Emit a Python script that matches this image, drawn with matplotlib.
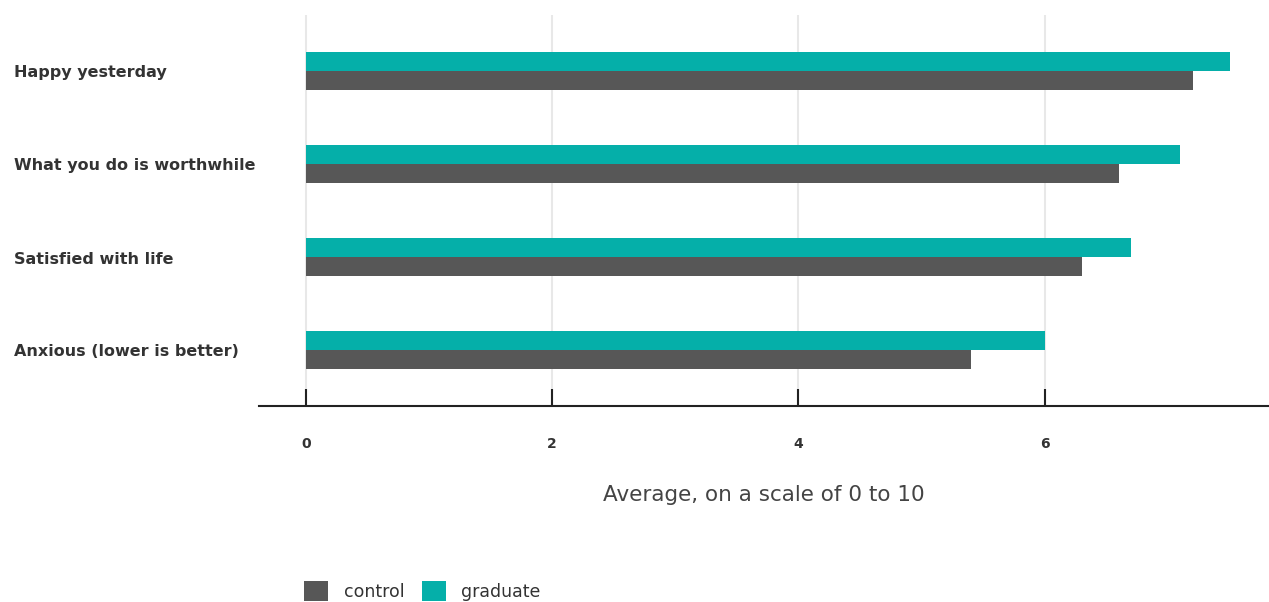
import matplotlib.pyplot as plt
import numpy as np

plt.rcParams['font.family'] = ['DejaVu Sans']

# wellbeing measures, top to bottom
categories = ['Happy yesterday', 'What you do is worthwhile',
              'Satisfied with life', 'Anxious (lower is better)']
control = [7.2, 6.6, 6.3, 5.4]
graduate = [7.5, 7.1, 6.7, 6.0]
ticks = [0, 2, 4, 6]

c_control = '#575757'
c_graduate = '#05AFA9'

fig = plt.figure(figsize=(12.69, 6.02), dpi=100)
ax = fig.add_axes([259 / 1269, 196 / 602, 1 - 259 / 1269, 391 / 602])

y = np.arange(len(categories))
h = 0.205
ax.barh(y - h / 2, graduate, height=h, color=c_graduate, label='graduate', zorder=3)
ax.barh(y + h / 2, control, height=h, color=c_control, label='control', zorder=3)

ax.set_ylim(3.6, -0.6)
ax.set_xlim(-0.38, 7.82)
ax.set_xticks(ticks)
ax.set_xticklabels([str(t) for t in ticks], fontsize=10, fontweight='bold', color='#333333')
ax.tick_params(axis='x', direction='in', length=12, width=1.5, color='#222222', pad=22)
ax.grid(axis='x', color='#e8e8e8', linewidth=1.5, zorder=0)
ax.set_yticks([])
for s in ['top', 'right', 'left']:
    ax.spines[s].set_visible(False)
ax.spines['bottom'].set_linewidth(1.5)
ax.spines['bottom'].set_color('#222222')

for yi, name in zip(y, categories):
    fig.text(14 / 1269, 1 - (yi * 93 + 73) / 602, name, fontsize=11.5, fontweight='bold',
             color='#333333', ha='left', va='center')

ax.set_xlabel('Average, on a scale of 0 to 10', fontsize=15.5, color='#444444', labelpad=25)

handles, labels = ax.get_legend_handles_labels()
leg = fig.legend(handles[::-1], labels[::-1], loc='center left',
                 bbox_to_anchor=(288 / 1269, 1 - 591 / 602),
                 ncol=2, frameon=False, fontsize=12.5, handlelength=1.4, handleheight=1.4,
                 handletextpad=0.9, columnspacing=1.0)
for t in leg.get_texts():
    t.set_color('#333333')

fig.savefig('out.png', dpi=100)
